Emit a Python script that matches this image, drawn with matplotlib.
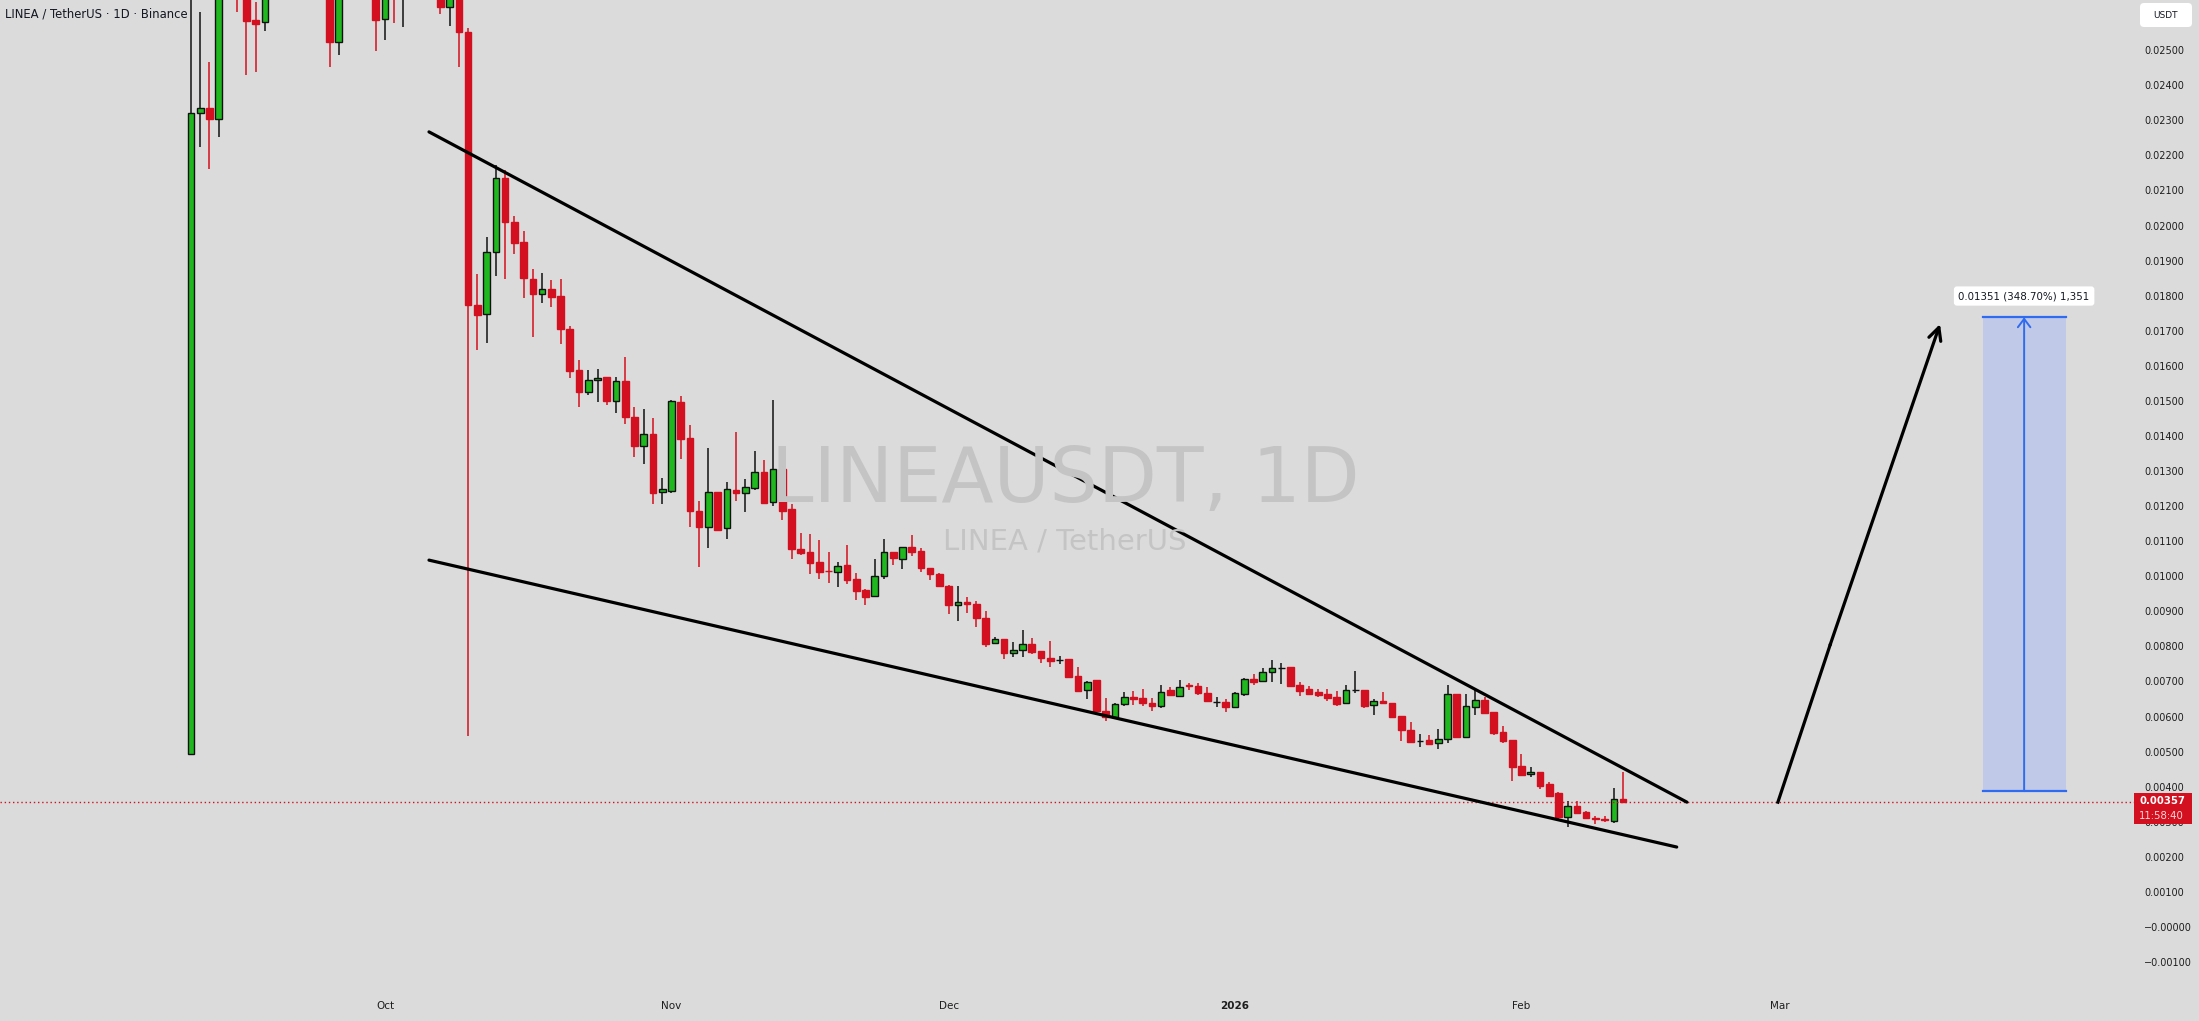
import numpy as np
import matplotlib
matplotlib.use("Agg")
import matplotlib.pyplot as plt
from matplotlib.patches import Rectangle, FancyBboxPatch
from matplotlib.transforms import IdentityTransform
import datetime as dt

plt.rcParams['font.family'] = ['DejaVu Sans']

# ---------------- data (prices in 1e-3 USDT) ----------------
start_date = dt.date(2025, 9, 10)
opens = [
    4.94, 23.20, 23.34, 23.03, 28.0, 29.5, 27.5, 25.86, 25.79, 27.2,
    28.3, 27.4, 28.6, 27.8, 27.0, 27.6, 25.22, 27.3, 28.0, 27.2,
    27.9, 25.89, 27.6, 26.9, 27.8, 28.5, 27.6, 27.8, 26.22, 27.0,
    25.51, 17.72, 17.47, 19.24, 21.35, 20.09, 19.52, 18.48, 18.04, 18.18,
    17.99, 17.04, 15.88, 15.26, 15.61, 15.67, 15.01, 15.57, 14.55, 13.72,
    14.07, 12.39, 12.44, 14.96, 13.93, 11.87, 11.41, 12.39, 11.37, 12.46,
    12.37, 12.53, 12.97, 12.11, 13.05, 11.92, 10.78, 10.68, 10.40, 10.16,
    10.13, 10.32, 9.92, 9.61, 9.44, 10.01, 10.68, 10.48, 10.83, 10.73,
    10.23, 10.07, 9.72, 9.18, 9.26, 9.21, 8.80, 8.09, 8.21, 7.80,
    7.90, 8.06, 7.87, 7.66, 7.61, 7.63, 7.15, 6.76, 7.04, 6.17,
    6.00, 6.36, 6.57, 6.52, 6.40, 6.30, 6.76, 6.59, 6.90, 6.87,
    6.66, 6.42, 6.42, 6.28, 6.63, 7.06, 7.01, 7.28, 7.38, 7.40,
    6.90, 6.78, 6.71, 6.64, 6.55, 6.38, 6.76, 6.76, 6.33, 6.44,
    6.38, 6.01, 5.63, 5.30, 5.33, 5.24, 5.35, 6.63, 5.43, 6.28,
    6.47, 6.14, 5.55, 5.33, 4.59, 4.36, 4.41, 4.07, 3.81, 3.15,
    3.45, 3.27, 3.10, 3.09, 3.03, 3.66]
closes = [
    23.20, 23.34, 23.03, 28.0, 29.5, 27.5, 25.84, 25.75, 27.2, 28.3,
    27.4, 28.6, 27.8, 27.0, 27.6, 25.22, 27.3, 28.0, 27.2, 27.9,
    25.86, 27.4, 26.8, 27.8, 28.5, 27.6, 27.8, 26.22, 27.0, 25.51,
    17.72, 17.45, 19.24, 21.35, 20.09, 19.51, 18.49, 18.04, 18.18, 17.97,
    17.04, 15.86, 15.26, 15.60, 15.66, 15.01, 15.57, 14.55, 13.72, 14.07,
    12.38, 12.48, 15.00, 13.92, 11.87, 11.41, 12.39, 11.32, 12.48, 12.37,
    12.54, 12.97, 12.10, 13.05, 11.87, 10.77, 10.67, 10.39, 10.13, 10.14,
    10.30, 9.89, 9.59, 9.42, 10.01, 10.68, 10.51, 10.83, 10.70, 10.23,
    10.07, 9.72, 9.17, 9.26, 9.21, 8.80, 8.07, 8.20, 7.80, 7.90,
    8.06, 7.85, 7.66, 7.59, 7.61, 7.14, 6.74, 6.99, 6.17, 6.00,
    6.36, 6.55, 6.49, 6.40, 6.31, 6.71, 6.62, 6.85, 6.87, 6.66,
    6.45, 6.42, 6.28, 6.66, 7.06, 6.99, 7.28, 7.38, 7.38, 6.87,
    6.74, 6.64, 6.62, 6.52, 6.36, 6.76, 6.76, 6.30, 6.44, 6.38,
    6.00, 5.62, 5.28, 5.30, 5.22, 5.35, 6.63, 5.43, 6.30, 6.47,
    6.09, 5.54, 5.31, 4.57, 4.33, 4.43, 4.03, 3.74, 3.13, 3.45,
    3.26, 3.10, 3.07, 3.05, 3.64, 3.57]
highs = [
    31.0, 26.1, 24.66, 29.5, 30.5, 30.8, 28.0, 26.36, 27.6, 29.0,
    29.1, 29.4, 29.0, 28.3, 28.2, 28.0, 27.8, 28.6, 28.5, 28.3,
    28.3, 27.9, 28.0, 28.2, 29.0, 28.9, 28.4, 28.1, 27.5, 27.3,
    25.62, 18.62, 19.67, 21.73, 21.57, 20.26, 19.85, 18.76, 18.66, 18.45,
    18.47, 17.14, 16.17, 15.88, 15.91, 15.67, 15.69, 16.24, 14.82, 14.77,
    14.50, 12.79, 15.03, 15.14, 14.31, 12.16, 13.65, 12.39, 12.68, 14.10,
    12.76, 13.57, 13.32, 15.03, 13.60, 12.06, 11.22, 11.21, 11.02, 10.70,
    10.40, 10.89, 10.08, 9.65, 10.48, 11.06, 10.68, 10.84, 11.18, 10.80,
    10.23, 10.10, 9.75, 9.72, 9.42, 9.30, 9.02, 8.28, 8.21, 8.14,
    8.47, 8.23, 7.87, 8.15, 7.73, 7.63, 7.40, 7.01, 7.04, 6.52,
    6.38, 6.69, 6.74, 6.78, 6.52, 6.90, 6.85, 7.04, 6.95, 6.95,
    6.84, 6.57, 6.51, 6.69, 7.10, 7.21, 7.38, 7.60, 7.54, 7.42,
    6.99, 6.88, 6.78, 6.78, 6.74, 6.90, 7.31, 6.76, 6.49, 6.71,
    6.38, 6.01, 5.84, 5.50, 5.48, 5.65, 6.90, 6.63, 6.64, 6.78,
    6.57, 6.14, 5.72, 5.33, 4.93, 4.55, 4.41, 4.14, 3.86, 3.60,
    3.60, 3.30, 3.17, 3.17, 3.95, 4.43]
lows = [
    4.94, 22.25, 21.60, 22.53, 27.0, 26.10, 24.30, 24.38, 25.54, 26.8,
    26.9, 27.0, 27.1, 26.45, 26.6, 24.51, 24.87, 26.8, 26.7, 26.45,
    24.98, 25.30, 25.77, 25.65, 27.2, 27.0, 26.9, 26.04, 25.70, 24.52,
    5.44, 16.45, 16.66, 18.56, 18.47, 19.19, 17.93, 16.82, 17.80, 17.67,
    16.61, 15.66, 14.82, 15.17, 14.98, 14.88, 14.65, 14.34, 13.41, 13.19,
    12.06, 12.06, 12.38, 13.34, 11.40, 10.27, 10.80, 11.29, 11.06, 12.16,
    11.84, 12.46, 12.06, 12.00, 11.59, 10.48, 10.61, 10.07, 9.91, 9.82,
    9.68, 9.78, 9.32, 9.18, 9.42, 9.91, 10.32, 10.20, 10.58, 10.13,
    9.89, 9.70, 8.93, 8.73, 8.94, 8.55, 7.99, 8.06, 7.63, 7.71,
    7.71, 7.78, 7.52, 7.42, 7.49, 7.10, 6.71, 6.49, 6.14, 5.88,
    5.99, 6.30, 6.33, 6.30, 6.16, 6.24, 6.59, 6.55, 6.76, 6.62,
    6.43, 6.28, 6.14, 6.26, 6.58, 6.90, 6.99, 6.99, 6.93, 6.85,
    6.60, 6.61, 6.57, 6.45, 6.30, 6.36, 6.68, 6.24, 6.05, 6.36,
    5.98, 5.31, 5.26, 5.14, 5.19, 5.08, 5.26, 5.40, 5.43, 6.05,
    6.07, 5.48, 5.24, 4.17, 4.31, 4.28, 3.93, 3.71, 3.07, 2.84,
    3.24, 3.08, 2.94, 2.99, 2.97, 3.57]

# drawings (x in day index from start_date, y in 1e-3 USDT)
upper_line_x = [25.76, 161.9]
upper_line_y = [22.67, 3.56]
lower_line_x = [25.76, 160.8]
lower_line_y = [10.46, 2.28]
arrow_x = [171.75, 177.4, 189.3]
arrow_y = [3.56, 8.04, 17.19]
measure_x = [193.9, 202.9]
measure_y = [3.874, 17.384]

month_starts = [dt.date(2025, 10, 1), dt.date(2025, 11, 1), dt.date(2025, 12, 1),
                dt.date(2026, 1, 1), dt.date(2026, 2, 1), dt.date(2026, 3, 1)]
month_labels = ["Oct", "Nov", "Dec", "2026", "Feb", "Mar"]

ytick_values = [0.025, 0.024, 0.023, 0.022, 0.021, 0.020, 0.019, 0.018, 0.017,
                0.016, 0.015, 0.014, 0.013, 0.012, 0.011, 0.010, 0.009, 0.008,
                0.007, 0.006, 0.005, 0.004, 0.003, 0.002, 0.001, 0.0, -0.001]
ytick_labels = ["0.02500", "0.02400", "0.02300", "0.02200", "0.02100", "0.02000",
                "0.01900", "0.01800", "0.01700", "0.01600", "0.01500", "0.01400",
                "0.01300", "0.01200", "0.01100", "0.01000", "0.00900", "0.00800",
                "0.00700", "0.00600", "0.00500", "0.00400", "0.00300", "0.00200",
                "0.00100", "\u22120.00000", "\u22120.00100"]

title_text = "LINEA / TetherUS \u00b7 1D \u00b7 Binance"
wm_big = "LINEAUSDT, 1D"
wm_small = "LINEA / TetherUS"
measure_label = "0.01351 (348.70%) 1,351"
last_price_label = "0.00357"
countdown_label = "11:58:40"

# ---------------- figure ----------------
W, H = 2199, 1021
BG = '#dbdbdb'
GREEN = '#1fb81f'
RED = '#d2101f'
fig = plt.figure(figsize=(W / 100, H / 100), dpi=100, facecolor=BG)
ax = fig.add_axes([0, 31 / H, 2135 / W, 990 / H], facecolor=BG)

scale = 1e-3
o = np.array(opens) * scale
c = np.array(closes) * scale
hi = np.array(highs) * scale
lo = np.array(lows) * scale
x = np.arange(len(o))
up = c >= o

wick_cols = np.where(up, '#111111', RED)
ax.vlines(x, lo, hi, colors=wick_cols, lw=1.1, zorder=2)
body_fill = np.where(up, GREEN, RED)
body_edge = np.where(up, '#111111', RED)
ax.bar(x, np.abs(c - o), bottom=np.minimum(o, c), width=0.72,
       color=body_fill, edgecolor=body_edge, linewidth=1.0, zorder=3)

# trend lines
ax.plot(upper_line_x, np.array(upper_line_y) * scale, color='black', lw=2.3, zorder=5,
        solid_capstyle='round')
ax.plot(lower_line_x, np.array(lower_line_y) * scale, color='black', lw=2.3, zorder=5,
        solid_capstyle='round')
# projection arrow
ax.plot(arrow_x[:2], np.array(arrow_y[:2]) * scale, color='black', lw=2.3, zorder=5)
ax.annotate("", xy=(arrow_x[2], arrow_y[2] * scale), xytext=(arrow_x[1], arrow_y[1] * scale),
            arrowprops=dict(arrowstyle='->,head_length=0.9,head_width=0.45', color='black',
                            lw=2.3, shrinkA=0, shrinkB=0), zorder=5)

# measurement rectangle
mx0, mx1 = measure_x
my0, my1 = measure_y[0] * scale, measure_y[1] * scale
ax.add_patch(Rectangle((mx0, my0), mx1 - mx0, my1 - my0, facecolor='#bfc9e8',
                       edgecolor='none', alpha=0.95, zorder=4))
ax.plot([mx0, mx1], [my0, my0], color='#2f6bf0', lw=1.6, zorder=5)
ax.plot([mx0, mx1], [my1, my1], color='#2f6bf0', lw=1.6, zorder=5)
mxc = (mx0 + mx1) / 2
ax.annotate("", xy=(mxc, my1), xytext=(mxc, my0),
            arrowprops=dict(arrowstyle='->,head_length=0.6,head_width=0.45', color='#2f6bf0',
                            lw=1.4, shrinkA=0, shrinkB=0), zorder=6)
ax.text(mxc, 17.99 * scale, measure_label, ha='center', va='center', fontsize=7.4,
        color='#131722', zorder=7,
        bbox=dict(boxstyle='round,pad=0.45,rounding_size=0.3', facecolor='white',
                  edgecolor='none'))

# current price dotted line
ax.axhline(c[-1], color=RED, lw=1.0, linestyle=(0, (1, 2)), zorder=4)

# watermark
fig.text(1065 / W, 1 - 502 / H, wm_big, ha='center', va='baseline', fontsize=55,
         color='#c4c4c4', zorder=0.5)
fig.text(1065 / W, 1 - 550 / H, wm_small, ha='center', va='baseline', fontsize=21,
         color='#c4c4c4', zorder=0.5)

# axes limits & ticks
ax.set_xlim(-20.67, 210.4)
ax.set_ylim(-1.796 * scale, 26.43 * scale)
for s in ax.spines.values():
    s.set_visible(False)
ax.yaxis.tick_right()
ax.set_yticks(ytick_values)
ax.set_yticklabels(ytick_labels)
ax.tick_params(axis='y', length=0, pad=6.5, labelsize=7, labelcolor='#1e1e1e')
month_pos = [(d - start_date).days for d in month_starts]
ax.set_xticks(month_pos)
ax.set_xticklabels(month_labels)
ax.tick_params(axis='x', length=0, pad=8, labelsize=7.5, labelcolor='#1e1e1e')
for lbl in ax.get_xticklabels():
    if lbl.get_text().isdigit():
        lbl.set_fontweight('bold')

# title
fig.text(5 / W, 1 - 14 / H, title_text, ha='left', va='center', fontsize=8.4,
         color='#131722')

# USDT box
fig.add_artist(FancyBboxPatch((2140, H - 27), 52, 24, boxstyle='round,pad=0,rounding_size=4',
                              facecolor='white', edgecolor='none', transform=IdentityTransform()))
fig.text(2166 / W, 1 - 15 / H, "USDT", ha='center', va='center', fontsize=6.5, color='#131722')

# last price label
fig.canvas.draw()
ypix = ax.transData.transform((0, c[-1]))[1]
fig.add_artist(Rectangle((2134, ypix - 22), 58, 31, facecolor=RED, edgecolor='none',
                         transform=IdentityTransform(), zorder=5))
fig.text(2139 / W, (ypix + 0.5) / H, last_price_label, ha='left', va='center', fontsize=7.3,
         fontweight='bold', color='white', zorder=6)
fig.text(2139 / W, (ypix - 14) / H, countdown_label, ha='left', va='center', fontsize=7.3,
         color='#ffd6d6', zorder=6)

fig.savefig("out.png", dpi=100, facecolor=BG)
